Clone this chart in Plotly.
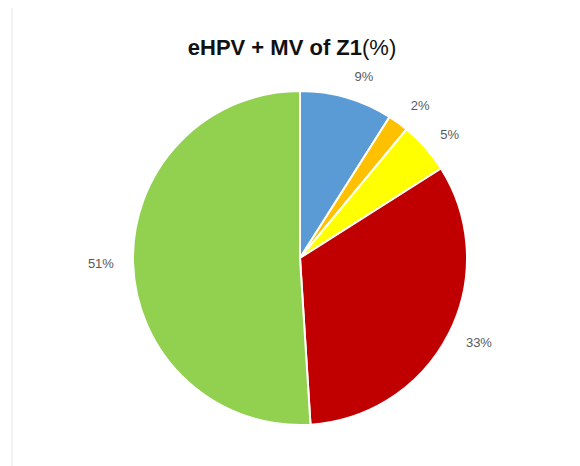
import plotly.graph_objects as go

categories = ["A", "B", "C", "D", "E"]
values = [9, 2, 5, 33, 51]
colors = ["#5B9BD5", "#FFC000", "#FFFF00", "#C00000", "#92D050"]
title_text = "<b>eHPV + MV of Z1</b>(%)"

W, H = 580, 466
OFF = 8  # page body margin
cx, cy, r = 300 - OFF, 258 - OFF, 167
r_lab = 182


def dom(rad):
    return dict(x=[(cx - rad) / W, (cx + rad) / W], y=[1 - (cy + rad) / H, 1 - (cy - rad) / H])


fig = go.Figure()
fig.add_trace(go.Pie(
    labels=categories, values=values,
    marker=dict(colors=colors, line=dict(color="white", width=2)),
    sort=False, direction="clockwise", rotation=0,
    textinfo="none", showlegend=False, domain=dom(r),
    hoverinfo="label+percent",
))
fig.add_trace(go.Pie(
    labels=categories, values=values,
    marker=dict(colors=["rgba(0,0,0,0)"] * len(values), line=dict(width=0)),
    sort=False, direction="clockwise", rotation=0,
    textposition="outside", texttemplate="%{percent:.0%}",
    textfont=dict(family="Liberation Sans, Arial", size=13, color="#595959"),
    showlegend=False, domain=dom(r_lab), hoverinfo="skip",
))

fig.update_layout(
    width=W, height=H,
    margin=dict(l=0, r=0, t=0, b=0),
    paper_bgcolor="white",
    plot_bgcolor="white",
    title=dict(text=title_text, x=(292 - OFF) / W, xanchor="center", y=1 - (47 - OFF) / H, yanchor="middle",
               font=dict(family="Liberation Sans, Arial", size=22, color="#111111")),
    shapes=[dict(type="rect", xref="paper", yref="paper",
                 x0=(12 - OFF) / W, x1=1.05, y0=-0.05, y1=1.05,
                 line=dict(color="#E6E6E6", width=1), fillcolor="rgba(0,0,0,0)")],
)

fig.write_html("out.html")
